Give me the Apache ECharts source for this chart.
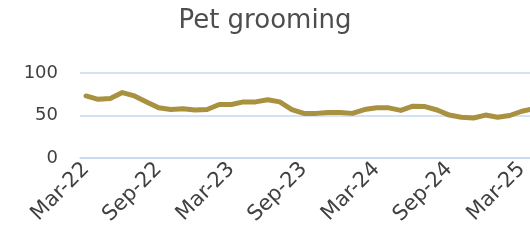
<!DOCTYPE html>
<html>
<head>
<meta charset="utf-8">
<script src="https://cdn.jsdelivr.net/npm/echarts@6/dist/echarts.min.js"></script>
<style>
  html, body { margin: 0; padding: 0; background: #fff; }
  #chart { width: 530px; height: 250px; }
</style>
</head>
<body>
<div id="chart"></div>
<script>
// monthly index, Mar-22 onwards
const months = [
  'Mar-22', 'Apr-22', 'May-22', 'Jun-22', 'Jul-22', 'Aug-22',
  'Sep-22', 'Oct-22', 'Nov-22', 'Dec-22', 'Jan-23', 'Feb-23',
  'Mar-23', 'Apr-23', 'May-23', 'Jun-23', 'Jul-23', 'Aug-23',
  'Sep-23', 'Oct-23', 'Nov-23', 'Dec-23', 'Jan-24', 'Feb-24',
  'Mar-24', 'Apr-24', 'May-24', 'Jun-24', 'Jul-24', 'Aug-24',
  'Sep-24', 'Oct-24', 'Nov-24', 'Dec-24', 'Jan-25', 'Feb-25',
  'Mar-25', 'Apr-25'
]
const grooming = [
  73, 69, 70, 77, 73, 66,
  59, 57, 58, 56.5, 57, 63,
  63, 66, 66, 68.5, 66, 57,
  52.5, 52.5, 53.5, 53.5, 52.5, 57,
  59, 59, 56, 61, 60.5, 56.5,
  50.5, 48, 47, 50.5, 48, 50,
  55, 58
]
const yTicks = { min: 0, max: 100, interval: 50 }

const chart = echarts.init(document.getElementById('chart'))
chart.setOption({
  animation: false,
  title: {
    text: 'Pet grooming',
    left: 'center',
    top: 3,
    textStyle: {
      fontFamily: 'DejaVu Sans',
      fontWeight: 'normal',
      fontSize: 26,
      color: '#4d4d4d'
    }
  },
  grid: {
    left: 80,
    right: -10,
    top: 73,
    bottom: 92,
    outerBoundsMode: 'none',
    containLabel: false
  },
  xAxis: {
    type: 'category',
    data: months,
    boundaryGap: true,
    axisLine: { lineStyle: { color: '#C6D9F1', width: 1.5 } },
    axisTick: {
      interval: 5,
      length: 6,
      lineStyle: { color: '#C6D9F1', width: 1.5 }
    },
    axisLabel: {
      interval: 5,
      rotate: 45,
      margin: 8,
      fontFamily: 'DejaVu Sans',
      fontSize: 21,
      color: '#404040'
    }
  },
  yAxis: {
    type: 'value',
    min: yTicks.min,
    max: yTicks.max,
    interval: yTicks.interval,
    axisLine: { show: false },
    axisTick: { show: false },
    axisLabel: {
      margin: 22,
      fontFamily: 'DejaVu Sans',
      fontSize: 18,
      color: '#404040'
    },
    splitLine: { lineStyle: { color: '#C6D9F1', width: 1.5 } }
  },
  series: [{
    name: 'Pet grooming',
    type: 'line',
    data: grooming,
    showSymbol: false,
    smooth: false,
    lineStyle: { color: '#A8913F', width: 5, cap: 'round', join: 'round' }
  }]
})
</script>
</body>
</html>
